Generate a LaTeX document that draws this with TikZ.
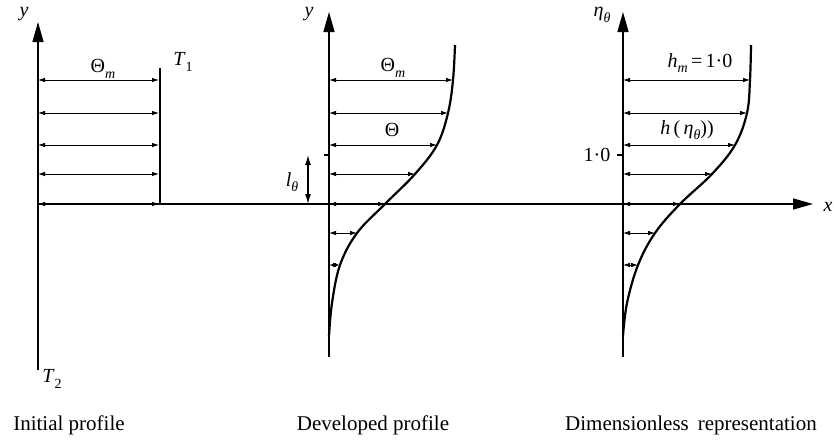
\documentclass[tikz,border=0pt]{standalone}
\usepackage{fontspec}
\setmainfont{Liberation Serif}
\usetikzlibrary{arrows.meta}
\newcommand{\sbs}[1]{\raisebox{-0.28em}{\fontsize{14}{16}\selectfont #1}}
\begin{document}
\begin{tikzpicture}[x=1pt,y=-1pt,
  axis/.style={line width=1.4pt,-{Triangle[length=20pt,width=11pt]}},
  dbl/.style={line width=0.8pt,{Latex[length=7pt,width=4.5pt]}-{Latex[length=7pt,width=4.5pt]}},
  vdbl/.style={line width=1.2pt,{Latex[length=10pt,width=6pt]}-{Latex[length=10pt,width=6pt]}},
  prof/.style={line width=2.2pt},
  tick/.style={line width=1.2pt},
  lab/.style={font=\fontsize{21}{25}\selectfont, inner sep=0pt},
  mlab/.style={font=\fontsize{20}{24}\selectfont, inner sep=0pt}]
\useasboundingbox (0,0) rectangle (834,440);

% ---------- left: initial profile ----------
\coordinate (A1b) at (38,370);
\coordinate (A1t) at (38,22);
\draw[axis] (A1b) -- (A1t);
\node[mlab] (y1) at (24,14) {\textit{y}};
\coordinate (T1top) at (160,68);
\coordinate (T1bot) at (160,204);
\draw[prof] (T1top) -- (T1bot);
\foreach \yy in {80,113,145,174,204}{
  \coordinate (L\yy) at (38,\yy);
  \coordinate (R\yy) at (159,\yy);
  \draw[dbl] (L\yy) -- (R\yy);
}
\node[mlab] (thm1) at (103,69) {Θ\sbs{\textit{m}}};
\node[mlab] (t1) at (183,62) {\textit{T}\sbs{1}};
\node[mlab] (t2) at (52,379) {\textit{T}\sbs{2}};

% ---------- x axis ----------
\coordinate (X0) at (38,204);
\coordinate (X1) at (813,204);
\draw[axis] (X0) -- (X1);
\node[mlab] (xl) at (828,207) {\textit{x}};

% ---------- middle: developed profile ----------
\coordinate (A2b) at (329,357);
\coordinate (A2t) at (329,12);
\draw[axis] (A2b) -- (A2t);
\node[mlab] (y2) at (309,14) {\textit{y}};
\coordinate (M0) at (455,45);
\coordinate (M1) at (453,80);
\coordinate (M2) at (448,113);
\coordinate (M3) at (437,145);
\coordinate (M4) at (415,174);
\coordinate (M5) at (385,204);
\coordinate (M6) at (357,233);
\coordinate (M7) at (340,265);
\coordinate (M8) at (332,303);
\coordinate (M9) at (329,336);
\draw[prof] plot[smooth,tension=0.6] coordinates {(M0) (M1) (M2) (M3) (M4) (M5) (M6) (M7) (M8) (M9)};
\foreach \i/\yy in {1/80,2/113,3/145,4/174,5/204,6/233,7/265}{
  \coordinate (ML\i) at (329,\yy);
  \draw[dbl] (ML\i) -- (M\i);
}
\node[mlab] (thm2) at (393,68) {Θ\sbs{\textit{m}}};
\node[mlab] (th2) at (392,130) {Θ};
\coordinate (tk2a) at (324,155);
\coordinate (tk2b) at (329,155);
\draw[tick] (tk2a) -- (tk2b);
\coordinate (la) at (308,155);
\coordinate (lb) at (308,204);
\draw[vdbl] (la) -- (lb);
\node[mlab] (lth) at (292,182) {\textit{l}\sbs{\textit{θ}}};

% ---------- right: dimensionless representation ----------
\coordinate (A3b) at (623,357);
\coordinate (A3t) at (623,12);
\draw[axis] (A3b) -- (A3t);
\node[mlab] (eta) at (602,15) {\textit{η}\sbs{\textit{θ}}};
\coordinate (N0) at (751,45);
\coordinate (N1) at (750,80);
\coordinate (N2) at (747,113);
\coordinate (N3) at (735,145);
\coordinate (N4) at (712,174);
\coordinate (N5) at (680,204);
\coordinate (N6) at (655,233);
\coordinate (N7) at (638,265);
\coordinate (N8) at (627,303);
\coordinate (N9) at (623,336);
\draw[prof] plot[smooth,tension=0.6] coordinates {(N0) (N1) (N2) (N3) (N4) (N5) (N6) (N7) (N8) (N9)};
\foreach \i/\yy in {1/80,2/113,3/145,4/174,5/204,6/233,7/265}{
  \coordinate (NL\i) at (623,\yy);
  \draw[dbl] (NL\i) -- (N\i);
}
\coordinate (tk3a) at (617,155);
\coordinate (tk3b) at (623,155);
\draw[tick] (tk3a) -- (tk3b);
\node[mlab] (one) at (597,155) {1·0};
\node[mlab] (hm) at (700,63) {\textit{h}\sbs{\textit{m}}\,=\,1·0};
\node[mlab] (heta) at (687,130) {\textit{h}\,(\,\textit{η}\sbs{\textit{θ}}))};

% ---------- captions ----------
\node[lab] (c1) at (69,425) {Initial profile};
\node[lab] (c2) at (373,425) {Developed profile};
\node[lab] (c3) at (691,425) {Dimensionless\hspace{9pt}representation};
\end{tikzpicture}
\end{document}
